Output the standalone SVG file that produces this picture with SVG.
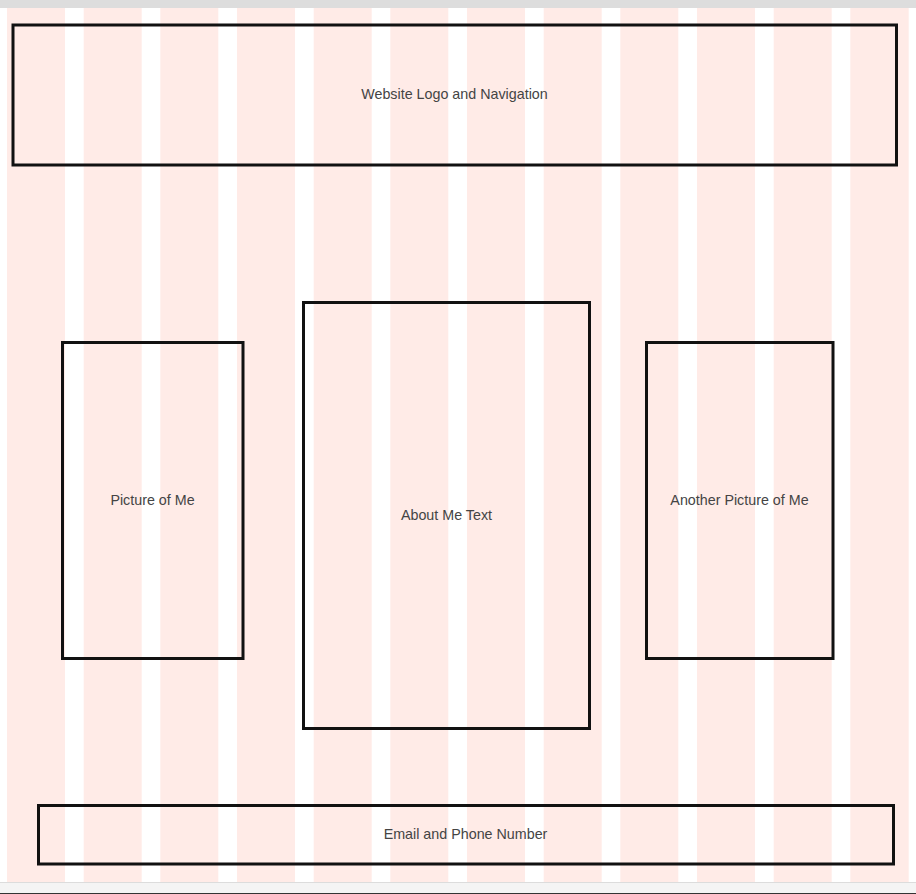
<svg xmlns="http://www.w3.org/2000/svg" width="916" height="894" viewBox="0 0 916 894">
<style>
.col{fill:#ffebe7}
.box{fill:none;stroke:#111;stroke-width:3}
.lbl{font-family:"Liberation Sans",Arial,sans-serif;font-size:14.3px;fill:#444;text-anchor:middle}
</style>
<rect x="0" y="0" width="916" height="894" fill="#fff"/>
<rect x="0" y="0" width="916" height="8" fill="#dddddd"/>
<g id="grid">
<rect class="col" x="7" y="8" width="58" height="874"/>
<rect class="col" x="83.7" y="8" width="58" height="874"/>
<rect class="col" x="160.3" y="8" width="58" height="874"/>
<rect class="col" x="237" y="8" width="58" height="874"/>
<rect class="col" x="313.7" y="8" width="58" height="874"/>
<rect class="col" x="390.3" y="8" width="58" height="874"/>
<rect class="col" x="467" y="8" width="58" height="874"/>
<rect class="col" x="543.7" y="8" width="58" height="874"/>
<rect class="col" x="620.3" y="8" width="58" height="874"/>
<rect class="col" x="697" y="8" width="58" height="874"/>
<rect class="col" x="773.7" y="8" width="58" height="874"/>
<rect class="col" x="850.3" y="8" width="58.4" height="874"/>
</g>
<rect x="0" y="882" width="916" height="12" fill="#f4f4f4"/>
<rect x="0" y="882" width="916" height="1" fill="#dcdcdc"/>
<rect x="0" y="893" width="916" height="1" fill="#333"/>
<g id="header">
<rect class="box" x="13" y="25" width="883.5" height="140"/>
<text class="lbl" x="454.5" y="99">Website Logo and Navigation</text>
</g>
<g id="picture-left">
<rect class="box" x="62.5" y="342.5" width="180.5" height="316"/>
<text class="lbl" x="152.5" y="505">Picture of Me</text>
</g>
<g id="about">
<rect class="box" x="303.5" y="302.5" width="286" height="426"/>
<text class="lbl" x="446.5" y="520">About Me Text</text>
</g>
<g id="picture-right">
<rect class="box" x="646.5" y="342.5" width="186.5" height="316"/>
<text class="lbl" x="739.5" y="505">Another Picture of Me</text>
</g>
<g id="footer">
<rect class="box" x="38.5" y="805.5" width="855" height="58.5"/>
<text class="lbl" x="465.5" y="839">Email and Phone Number</text>
</g>
<g id="connectors"/>
</svg>
